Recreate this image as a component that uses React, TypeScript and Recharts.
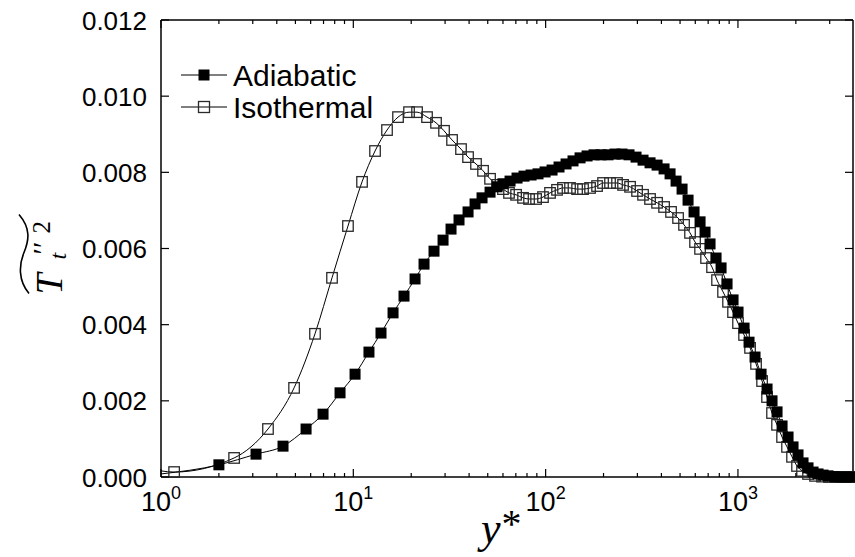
import React from 'react';
import { LineChart, Line, XAxis, YAxis, Legend, Label } from 'recharts';

// ---- data ----
const isoYStar = [
  1, 1.17, 2.4, 3.6, 4.92, 6.32, 7.75, 9.38, 11.1, 12.97, 14.97, 17.08, 19.49, 21.45, 24.17,
  26.92, 29.63, 32.61, 36.31, 39.5, 43.45, 47.27, 51.4, 55.9, 60.0, 64.5, 70.2, 76.3, 82.0,
  89.2, 96.9, 105.4, 114.6, 123.1, 133.9, 145.7, 156.5, 170.2, 185.1, 198.9, 216.2, 235.1,
  252.7, 274.8, 298.8, 321.0, 349.1, 379.7, 412.9, 448.9, 488.2, 524.4, 563.4, 598.4, 635.3,
  682.6, 733.4, 778.6, 836.6, 888.2, 943.0, 1001, 1076, 1156, 1242, 1335, 1417, 1504, 1597,
  1696, 1800, 1911, 2029, 2154, 2314, 2517, 2737, 2976, 3237, 3520, 3828,
];
const isoValue = [
  0.00016, 0.00013, 0.0005, 0.00126, 0.00234, 0.00376, 0.00523, 0.00659, 0.00775, 0.00856,
  0.00911, 0.00945, 0.00958, 0.00958, 0.00945, 0.0093, 0.00909, 0.00885, 0.00861, 0.0084,
  0.00822, 0.00804, 0.00783, 0.00767, 0.00756, 0.00746, 0.00741, 0.00733, 0.0073, 0.0073,
  0.00735, 0.00746, 0.00754, 0.00759, 0.00759, 0.00756, 0.00756, 0.00759, 0.00764, 0.00772,
  0.00772, 0.00772, 0.00767, 0.00762, 0.00751, 0.00741, 0.0073, 0.0072, 0.00709, 0.00696,
  0.0068, 0.00662, 0.00641, 0.00617, 0.00599, 0.00575, 0.00551, 0.00517, 0.00486, 0.0046,
  0.00433, 0.00404, 0.00373, 0.00339, 0.00297, 0.00252, 0.0021, 0.00168, 0.00137, 0.00105,
  0.00079, 0.00053, 0.00029, 0.00016, 0.00008, 0.00003, 0.00001, 0, 0, 0, 0,
];
const adiYStar = [
  1, 2.0, 3.12, 4.31, 5.68, 6.96, 8.53, 10.21, 12.06, 13.93, 16.09, 18.35, 20.94, 23.32, 26.28,
  29.28, 32.22, 35.45, 39.5, 42.95, 46.7, 51.4, 55.9, 60.0, 65.3, 71.0, 77.2, 84.0, 91.3, 99.3,
  108.0, 117.4, 127.7, 138.8, 151.0, 164.2, 178.5, 194.1, 211.1, 229.6, 249.6, 271.4, 295.2,
  321.0, 349.1, 379.7, 412.9, 443.6, 476.7, 512.2, 550.3, 591.2, 635.3, 674.5, 716.0, 769.4,
  817.0, 877.7, 943.0, 1001, 1076, 1142, 1227, 1319, 1417, 1504, 1597, 1696, 1822, 1934, 2053,
  2180, 2314, 2458, 2610, 2770, 2941, 3160, 3396, 3649, 3920,
];
const adiValue = [
  0.00008, 0.00032, 0.0006, 0.00081, 0.00126, 0.00165, 0.00221, 0.0027, 0.00328, 0.00378,
  0.00431, 0.00475, 0.0052, 0.00559, 0.00593, 0.00622, 0.00651, 0.00675, 0.00696, 0.00717,
  0.00733, 0.00748, 0.00762, 0.0077, 0.00777, 0.00785, 0.0079, 0.00793, 0.00796, 0.00801,
  0.00806, 0.00814, 0.00822, 0.0083, 0.00838, 0.00843, 0.00846, 0.00846, 0.00846, 0.00848,
  0.00848, 0.00846, 0.0084, 0.00832, 0.00825, 0.00819, 0.00809, 0.00796, 0.00777, 0.00756,
  0.00727, 0.00696, 0.0067, 0.00643, 0.00612, 0.00575, 0.00549, 0.00507, 0.00465, 0.00433,
  0.00391, 0.00354, 0.00315, 0.0027, 0.00231, 0.002, 0.00171, 0.00134, 0.00105, 0.00079,
  0.00058, 0.00037, 0.00024, 0.00013, 0.00008, 0.00005, 0.00003, 0.00001, 0, 0, 0,
];
const xMajorTicks = [1, 10, 100, 1000];
const xMinorTicks = [
  2, 3, 4, 5, 6, 7, 8, 9, 20, 30, 40, 50, 60, 70, 80, 90, 200, 300, 400, 500, 600, 700, 800,
  900, 2000, 3000,
];
const yTicks = [0, 0.002, 0.004, 0.006, 0.008, 0.01, 0.012];
const legendLabels = ['Adiabatic', 'Isothermal'];

const X_DOMAIN: [number, number] = [1, 3965];
const Y_DOMAIN: [number, number] = [0, 0.012];

const xTicks = [...xMajorTicks, ...xMinorTicks].sort((a, b) => a - b);
const isoData = isoYStar.map((y, i) => ({ y, v: isoValue[i] }));
const adiData = adiYStar.map((y, i) => ({ y, v: adiValue[i] }));

const SANS = '"Liberation Sans", Arial, Helvetica, sans-serif';
const SERIF = '"Liberation Serif", "Times New Roman", serif';
const TICK_FS = 26;

const makeDot = (filled: boolean) => (props: any) => {
  const { cx, cy, index } = props;
  if (index === 0 || cx == null || cy == null) return <g key={`e-${index}`} />;
  const s = filled ? 11 : 10.5;
  return (
    <rect
      key={`m-${index}`}
      x={cx - s / 2}
      y={cy - s / 2}
      width={s}
      height={s}
      fill={filled ? '#000' : 'none'}
      stroke={filled ? 'none' : '#2a2a2a'}
      strokeWidth={filled ? 0 : 1.3}
    />
  );
};

const XBottomTick = (props: any) => {
  const { x, y, payload } = props;
  const v = payload.value;
  const major = xMajorTicks.includes(v);
  const exp = Math.round(Math.log10(v));
  return (
    <g>
      <line x1={x} x2={x} y1={y} y2={y - (major ? 8 : 4)} stroke="#000" strokeWidth={1.2} />
      {major && (
        <text x={x} y={y + 34} textAnchor="middle" fontFamily={SANS} fontSize={27} fill="#000">
          10
          <tspan dy={-12} fontSize={18}>
            {exp}
          </tspan>
        </text>
      )}
    </g>
  );
};

const XTopTick = (props: any) => {
  const { x, y, payload } = props;
  const major = xMajorTicks.includes(payload.value);
  return <line x1={x} x2={x} y1={y} y2={y + (major ? 8 : 4)} stroke="#000" strokeWidth={1.2} />;
};

const YLeftTick = (props: any) => {
  const { x, y, payload } = props;
  return (
    <g>
      <line x1={x} x2={x + 8} y1={y} y2={y} stroke="#000" strokeWidth={1.2} />
      <text x={x - 14} y={y + 9.5} textAnchor="end" fontFamily={SANS} fontSize={TICK_FS} fill="#000">
        {Number(payload.value).toFixed(3)}
      </text>
    </g>
  );
};

const YRightTick = (props: any) => {
  const { x, y } = props;
  return <line x1={x} x2={x - 8} y1={y} y2={y} stroke="#000" strokeWidth={1.2} />;
};

const XLabel = (props: any) => {
  const vb = props.viewBox || { x: 161, y: 477 };
  return (
    <text x={vb.x + 320} y={vb.y + 66} fontFamily={SERIF} fontSize={44} fill="#000">
      <tspan fontStyle="italic">y</tspan>
      <tspan dx={1} dy={-6} fontSize={40}>
        *
      </tspan>
    </text>
  );
};

const YLabel = (props: any) => {
  const vb = props.viewBox || { x: 0, y: 20, width: 161, height: 457 };
  const cx = vb.x + 62;
  const cy = vb.y + vb.height / 2 + 4;
  return (
    <g transform={`translate(${cx}, ${cy}) rotate(-90)`}>
      <path
        d="M -41 -33 C -28 -44 -12 -43 0 -38 S 24 -31 38 -43"
        fill="none"
        stroke="#000"
        strokeWidth={1.6}
      />
      <text x={-42} y={0} fontFamily={SERIF} fontStyle="italic" fontSize={38} fill="#000">
        T
      </text>
      <text x={-7} y={4} fontFamily={SERIF} fontStyle="italic" fontSize={24} fill="#000">
        t
      </text>
      <text x={-2} y={-9} fontFamily={SERIF} fontSize={30} fill="#000">
        ′′
      </text>
      <text x={19} y={-12} fontFamily={SERIF} fontSize={25} fill="#000">
        2
      </text>
    </g>
  );
};

const LegendContent = () => (
  <svg width={230} height={70} style={{ display: 'block', overflow: 'visible' }}>
    {legendLabels.map((name, i) => {
      const cy = 20 + i * 32;
      const filled = i === 0;
      return (
        <g key={name}>
          <line x1={6} x2={52} y1={cy} y2={cy} stroke="#000" strokeWidth={1.2} />
          <rect
            x={29 - 5.5}
            y={cy - 5.5}
            width={11}
            height={11}
            fill={filled ? '#000' : 'none'}
            stroke={filled ? 'none' : '#2a2a2a'}
            strokeWidth={1.3}
          />
          <text x={58} y={cy + 10.5} fontFamily={SANS} fontSize={30} fill="#000">
            {name}
          </text>
        </g>
      );
    })}
  </svg>
);

export default function App() {
  return (
    <div style={{ width: 855, height: 557, position: 'relative', background: '#fff' }}>
      <style>{'body{margin:0;background:#fff;}'}</style>
      <LineChart width={855} height={557} margin={{ top: 0, right: 0, bottom: 0, left: 0 }}>
        <XAxis
          xAxisId="b"
          dataKey="y"
          type="number"
          scale="log"
          domain={X_DOMAIN}
          ticks={xTicks}
          interval={0}
          tick={XBottomTick}
          tickLine={false}
          tickSize={0}
          tickMargin={0}
          axisLine={{ stroke: '#000', strokeWidth: 1.5 }}
          height={80}
          orientation="bottom"
        >
          <Label content={XLabel} />
        </XAxis>
        <XAxis
          xAxisId="t"
          dataKey="y"
          type="number"
          scale="log"
          domain={X_DOMAIN}
          allowDataOverflow
          ticks={xTicks}
          interval={0}
          tick={XTopTick}
          tickLine={false}
          tickSize={0}
          tickMargin={0}
          axisLine={{ stroke: '#000', strokeWidth: 1.5 }}
          height={20}
          orientation="top"
        />
        <YAxis
          yAxisId="l"
          type="number"
          domain={Y_DOMAIN}
          ticks={yTicks}
          interval={0}
          tick={YLeftTick}
          tickLine={false}
          tickSize={0}
          tickMargin={0}
          axisLine={{ stroke: '#000', strokeWidth: 1.5 }}
          width={161}
          orientation="left"
        >
          <Label content={YLabel} />
        </YAxis>
        <YAxis
          yAxisId="r"
          type="number"
          domain={Y_DOMAIN}
          allowDataOverflow
          ticks={yTicks}
          interval={0}
          tick={YRightTick}
          tickLine={false}
          tickSize={0}
          tickMargin={0}
          axisLine={{ stroke: '#000', strokeWidth: 1.5 }}
          width={2}
          orientation="right"
        />
        <Line
          xAxisId="b"
          yAxisId="l"
          data={isoData}
          dataKey="v"
          name="Isothermal"
          type="monotone"
          stroke="#000"
          strokeWidth={1}
          dot={makeDot(false)}
          activeDot={false}
          isAnimationActive={false}
        />
        <Line
          xAxisId="b"
          yAxisId="l"
          data={adiData}
          dataKey="v"
          name="Adiabatic"
          type="monotone"
          stroke="#000"
          strokeWidth={1}
          dot={makeDot(true)}
          activeDot={false}
          isAnimationActive={false}
        />
        <Legend
          layout="vertical"
          align="center"
          verticalAlign="middle"
          content={LegendContent}
          wrapperStyle={{ left: 175, top: 55, width: 230, height: 70 }}
        />
      </LineChart>
    </div>
  );
}
